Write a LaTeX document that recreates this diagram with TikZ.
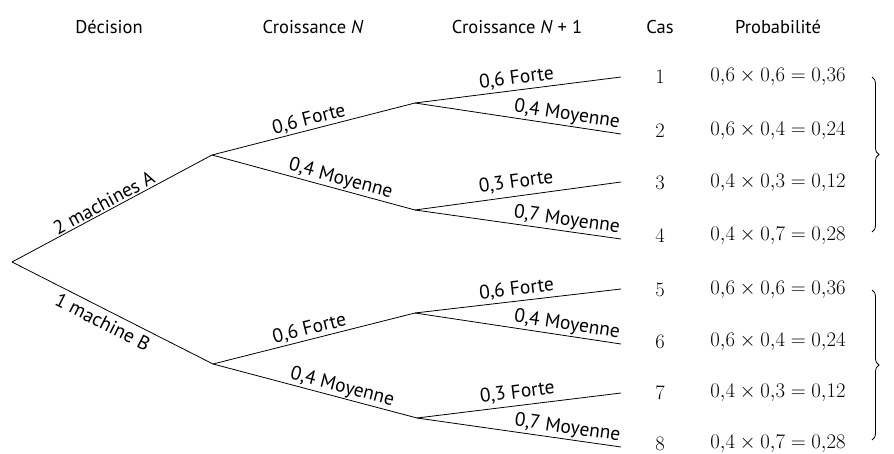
\documentclass[tikz,border=0pt]{standalone}
\usepackage{fontspec}
\setsansfont{PT Sans}
\usetikzlibrary{decorations.pathreplacing}
\newcommand\myhdr{\sffamily\fontsize{18.5}{20}\selectfont}
\newcommand\mylab{\sffamily\fontsize{19.5}{21}\selectfont}
\newcommand\mynum{\rmfamily\fontsize{20.5}{22}\selectfont}
\tikzset{
  br/.style={line width=0.8pt},
  lab/.style={font=\mylab, sloped, inner sep=1.5pt},
  hdr/.style={font=\myhdr, anchor=center},
  num/.style={font=\mynum, anchor=center},
  bracestyle/.style={line width=0.8pt, decorate, decoration={brace, amplitude=7pt}}
}
\begin{document}
\begin{tikzpicture}[x=1pt, y=-1pt]
\useasboundingbox (0,0) rectangle (894,454);
% headers
\node[hdr] (h1) at (109,27) {Décision};
\node[hdr] (h2) at (313,27) {Croissance \textit{N}};
\node[hdr] (h3) at (517,27) {Croissance \textit{N} + 1};
\node[hdr] (h4) at (660,27) {Cas};
\node[hdr] (h5) at (778,27) {Probabilité};
% tree nodes
\coordinate (r) at (12,262);
\coordinate (a) at (212,155);
\coordinate (b) at (213,364);
\coordinate (af) at (415,103);
\coordinate (am) at (415,210);
\coordinate (bf) at (415,313);
\coordinate (bm) at (417,418);
\coordinate (l1) at (621,77);
\coordinate (l2) at (621,134);
\coordinate (l3) at (621,182);
\coordinate (l4) at (621,239);
\coordinate (l5) at (621,289);
\coordinate (l6) at (621,344);
\coordinate (l7) at (621,393);
\coordinate (l8) at (621,447);
% level 1
\draw[br] (r) -- node[lab, above, pos=0.48] {2 machines A} (a);
\draw[br] (r) -- node[lab, below, pos=0.48, inner sep=5pt] {1 machine B} (b);
% level 2
\draw[br] (a) -- node[lab, above, pos=0.49] {0,6 Forte} (af);
\draw[br] (a) -- node[lab, above, pos=0.62, inner sep=1pt] {0,4 Moyenne} (am);
\draw[br] (b) -- node[lab, above, pos=0.49] {0,6 Forte} (bf);
\draw[br] (b) -- node[lab, above, pos=0.62, inner sep=1pt] {0,4 Moyenne} (bm);
% level 3
\draw[br] (af) -- node[lab, above, pos=0.5, inner sep=3pt] {0,6 Forte} (l1);
\draw[br] (af) -- node[lab, above, pos=0.73] {0,4 Moyenne} (l2);
\draw[br] (am) -- node[lab, above, pos=0.5, inner sep=5pt] {0,3 Forte} (l3);
\draw[br] (am) -- node[lab, above, pos=0.73] {0,7 Moyenne} (l4);
\draw[br] (bf) -- node[lab, above, pos=0.5, inner sep=3pt] {0,6 Forte} (l5);
\draw[br] (bf) -- node[lab, above, pos=0.73] {0,4 Moyenne} (l6);
\draw[br] (bm) -- node[lab, above, pos=0.5, inner sep=4pt] {0,3 Forte} (l7);
\draw[br] (bm) -- node[lab, above, pos=0.73] {0,7 Moyenne} (l8);
% cases
\node[num] (c1) at (660,77) {1};
\node[num] (c2) at (660,131) {2};
\node[num] (c3) at (660,183) {3};
\node[num] (c4) at (660,236) {4};
\node[num] (c5) at (660,290) {5};
\node[num] (c6) at (660,342) {6};
\node[num] (c7) at (660,393) {7};
\node[num] (c8) at (660,444) {8};
% probabilities
\node[num] (p1) at (778,77) {$0{,}6 \times 0{,}6 = 0{,}36$};
\node[num] (p2) at (778,131) {$0{,}6 \times 0{,}4 = 0{,}24$};
\node[num] (p3) at (778,183) {$0{,}4 \times 0{,}3 = 0{,}12$};
\node[num] (p4) at (778,236) {$0{,}4 \times 0{,}7 = 0{,}28$};
\node[num] (p5) at (778,290) {$0{,}6 \times 0{,}6 = 0{,}36$};
\node[num] (p6) at (778,342) {$0{,}6 \times 0{,}4 = 0{,}24$};
\node[num] (p7) at (778,393) {$0{,}4 \times 0{,}3 = 0{,}12$};
\node[num] (p8) at (778,444) {$0{,}4 \times 0{,}7 = 0{,}28$};
% braces
\coordinate (b1t) at (872,77);
\coordinate (b1b) at (872,232);
\coordinate (b2t) at (872,290);
\coordinate (b2b) at (872,440);
\draw[bracestyle] (b1t) -- (b1b);
\draw[bracestyle] (b2t) -- (b2b);
\end{tikzpicture}
\end{document}
